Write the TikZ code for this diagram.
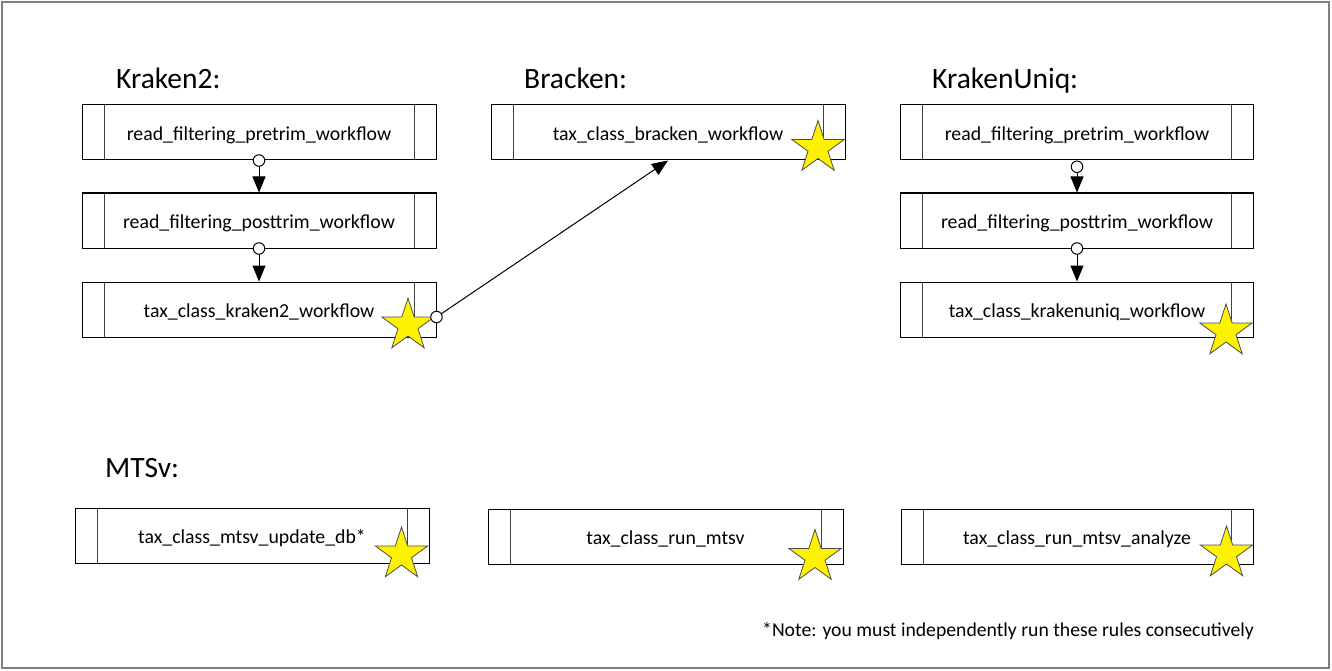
\documentclass[tikz,border=0pt]{standalone}
\usepackage{fontspec}
\setmainfont{Carlito}
\usetikzlibrary{shapes.geometric,arrows.meta}
\newcommand{\boxtext}[1]{\raisebox{-2.5pt}[\height][\depth]{#1}}
\begin{document}
\begin{tikzpicture}[x=1pt,y=-1pt,
  proc/.style={draw=black, line width=1pt, minimum height=55pt, inner sep=0pt,
    font=\fontsize{19.8}{23}\selectfont,
    path picture={
      \draw[line width=1pt, black!75] ([xshift=22pt]path picture bounding box.north west) -- ([xshift=22pt]path picture bounding box.south west);
      \draw[line width=1pt, black!75] ([xshift=-22pt]path picture bounding box.north east) -- ([xshift=-22pt]path picture bounding box.south east);
    }},
  starshape/.style={star, star points=5, star point ratio=2.618, minimum size=55pt,
    inner sep=0pt, draw=black!70, fill=yellow, line width=0.8pt},
  grouplabel/.style={anchor=base west, inner sep=0pt, font=\fontsize{29.5}{33}\selectfont},
  flow/.style={line width=1pt, {Circle[fill=white,length=12.5pt,width=12.5pt]}-{Triangle[length=16pt,width=13pt]}},
  centredstart/.style={shorten <=-6.25pt}
]
\useasboundingbox (0,0) rectangle (1332,671);
\draw[line width=2pt, black!50] (2,2) rectangle (1329,668);

% group labels
\node[grouplabel] (lk) at (116,89) {Kraken2:};
\node[grouplabel] (lb) at (524,89) {Bracken:};
\node[grouplabel] (lu) at (932,89) {KrakenUniq:};
\node[grouplabel] (lm) at (105,477) {MTSv:};

% Kraken2 column
\node[proc, minimum width=354pt] (k1) at (259,132.5) {\boxtext{read\_filtering\_pretrim\_workflow}};
\node[proc, minimum width=354pt] (k2) at (259,220.5) {\boxtext{read\_filtering\_posttrim\_workflow}};
\node[proc, minimum width=354pt] (k3) at (259,309.5) {\boxtext{tax\_class\_kraken2\_workflow}};

% Bracken
\node[proc, minimum width=354pt] (b1) at (668,132.5) {\boxtext{tax\_class\_bracken\_workflow}};

% KrakenUniq column
\node[proc, minimum width=353pt] (u1) at (1077,132.5) {\boxtext{read\_filtering\_pretrim\_workflow}};
\node[proc, minimum width=353pt] (u2) at (1077,220.5) {\boxtext{read\_filtering\_posttrim\_workflow}};
\node[proc, minimum width=353pt] (u3) at (1077,309.5) {\boxtext{tax\_class\_krakenuniq\_workflow}};

% MTSv row
\node[proc, minimum width=354pt] (m1) at (252,536) {\boxtext{tax\_class\_mtsv\_update\_db*}};
\node[proc, minimum width=355pt] (m2) at (665.5,536.5) {\boxtext{tax\_class\_run\_mtsv}};
\node[proc, minimum width=352pt] (m3) at (1077,536.5) {\boxtext{tax\_class\_run\_mtsv\_analyze}};

% stars
\node[starshape] (s1) at (408,325.5) {};
\node[starshape] (s2) at (818,148) {};
\node[starshape] (s3) at (1226,331.5) {};
\node[starshape] (s4) at (401.5,554.5) {};
\node[starshape] (s5) at (815,557) {};
\node[starshape] (s6) at (1226.5,553.5) {};

% connectors
\draw[flow, centredstart] (k1.south) -- (k2.north);
\draw[flow, centredstart] (k2.south) -- (k3.north);
\draw[flow, centredstart] ([yshift=-7.5pt]k3.east) -- (b1.south);
\draw[flow] (u1.south) -- (u2.north);
\draw[flow, centredstart] (u2.south) -- (u3.north);

% note
\node[anchor=base east, inner sep=0pt, font=\fontsize{19.7}{23}\selectfont] (note) at (1254,636) {*Note: you must independently run these rules consecutively};
\end{tikzpicture}
\end{document}
